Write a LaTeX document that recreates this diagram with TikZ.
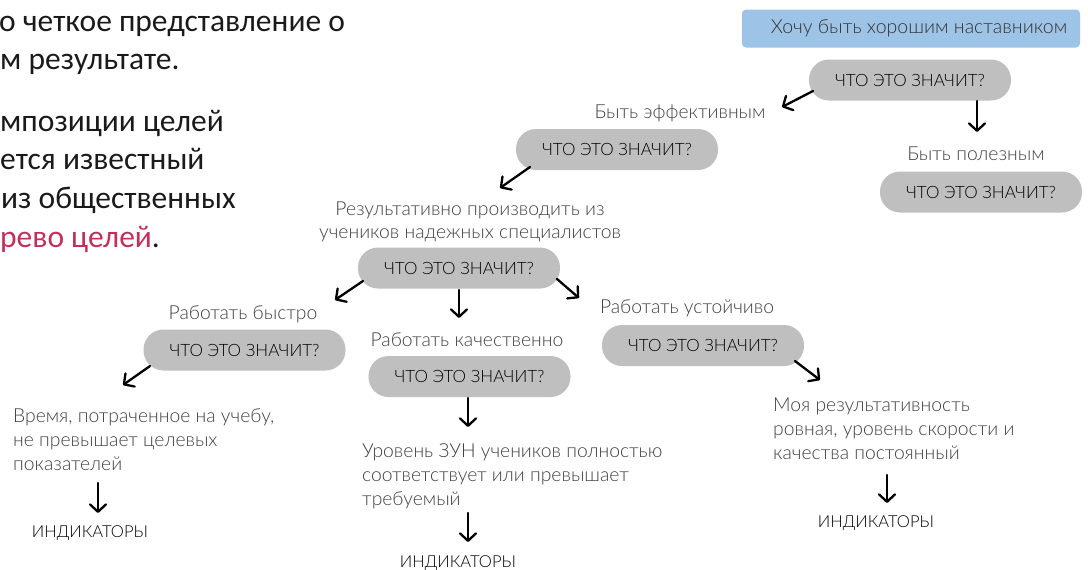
\documentclass[tikz,border=0pt]{standalone}
\usepackage{fontspec}
\setmainfont{Carlito}
\newfontfamily\lblfont{Lato Light}
\usetikzlibrary{arrows.meta}
\definecolor{pill}{HTML}{BFBFBF}
\definecolor{topblue}{HTML}{9DC3E6}
\definecolor{lblgray}{HTML}{404040}
\definecolor{crim}{HTML}{C0305A}
\definecolor{txt}{HTML}{1A1A1A}
\begin{document}
\begin{tikzpicture}[x=1pt,y=-1pt,
 pillbox/.style={rectangle,rounded corners=20pt,fill=pill,minimum width=202pt,minimum height=41pt,inner sep=0pt,font=\lblfont\fontsize{17}{19}\selectfont,text=black},
 lbl/.style={inner sep=0pt,font=\lblfont\fontsize{19.3}{23.7}\selectfont,text=lblgray},
 ind/.style={inner sep=0pt,font=\lblfont\fontsize{16.5}{18}\selectfont,text=black},
 big/.style={inner sep=0pt,anchor=base west,font=\fontsize{31.5}{36}\selectfont,text=txt},
 arr/.style={line width=2.3pt,line cap=round,-{Straight Barb[length=7.5pt,width=16pt,line cap=round,line join=round]}}]
\useasboundingbox (0,0) rectangle (1088,570);
% left text
\node[big] (L1) at (-1,31) {о четкое представление о};
\node[big] (L2) at (0,69) {м результате.};
\node[big] (L3) at (0,131) {мпозиции целей};
\node[big] (L4) at (0,169) {ется известный};
\node[big] (L5) at (1,208) {из общественных};
\node[big] (L6) at (0,247) {\textcolor{crim}{рево целей}.};
% top goal
\node[rectangle,rounded corners=4pt,fill=topblue,minimum width=338pt,minimum height=38pt,inner sep=0pt,font=\lblfont\fontsize{19.5}{21}\selectfont,text=black!80] (top) at (911,28.5) {\hspace*{16pt}Хочу быть хорошим наставником};
% pills
\node[pillbox] (pA) at (910,80) {ЧТО ЭТО ЗНАЧИТ?};
\node[pillbox] (pB) at (981,192) {ЧТО ЭТО ЗНАЧИТ?};
\node[pillbox] (pC) at (617,149.5) {ЧТО ЭТО ЗНАЧИТ?};
\node[pillbox] (pD) at (459,268) {ЧТО ЭТО ЗНАЧИТ?};
\node[pillbox] (pE) at (244.5,350) {ЧТО ЭТО ЗНАЧИТ?};
\node[pillbox] (pF) at (469.5,376.5) {ЧТО ЭТО ЗНАЧИТ?};
\node[pillbox] (pG) at (703,345.5) {ЧТО ЭТО ЗНАЧИТ?};
% labels
\node[lbl] (lEff) at (680,113) {Быть эффективным};
\node[lbl] (lUse) at (976,154) {Быть полезным};
\node[lbl,align=center] (lRes) at (470,222) {Результативно производить из\\учеников надежных специалистов};
\node[lbl] (lFast) at (243,314) {Работать быстро};
\node[lbl] (lQual) at (467,340) {Работать качественно};
\node[lbl] (lStab) at (687,308) {Работать устойчиво};
\node[lbl,align=left,anchor=north west] (tTime) at (13,409) {Время, потраченное на учебу,\\не превышает целевых\\показателей};
\node[lbl,align=left,anchor=north west] (tQual) at (362,444) {Уровень ЗУН учеников полностью\\соответствует или превышает\\требуемый};
\node[lbl,align=left,anchor=north west] (tStab) at (773,398) {Моя результативность\\ровная, уровень скорости и\\качества постоянный};
\node[ind] (iTime) at (90,533) {ИНДИКАТОРЫ};
\node[ind] (iQual) at (458,563) {ИНДИКАТОРЫ};
\node[ind] (iStab) at (876,523) {ИНДИКАТОРЫ};
% arrow ends
\coordinate (a1s) at (813,91);  \coordinate (a1e) at (782,107);
\coordinate (a2s) at (977,101); \coordinate (a2e) at (977,132);
\coordinate (a3s) at (530,167); \coordinate (a3e) at (500,188);
\coordinate (a4s) at (363,281); \coordinate (a4e) at (335,300);
\coordinate (a5s) at (459,290); \coordinate (a5e) at (459,318);
\coordinate (a6s) at (557,279); \coordinate (a6e) at (579,298);
\coordinate (a7s) at (150,366); \coordinate (a7e) at (123,385);
\coordinate (a8s) at (98,483);  \coordinate (a8e) at (98,513);
\coordinate (a9s) at (468,398); \coordinate (a9e) at (468,427);
\coordinate (a10s) at (468,513); \coordinate (a10e) at (468,542);
\coordinate (a11s) at (795,361); \coordinate (a11e) at (820,380);
\coordinate (a12s) at (887,475); \coordinate (a12e) at (887,503);
\foreach \i in {1,...,12} {\draw[arr] (a\i s) -- (a\i e);}
\end{tikzpicture}
\end{document}
